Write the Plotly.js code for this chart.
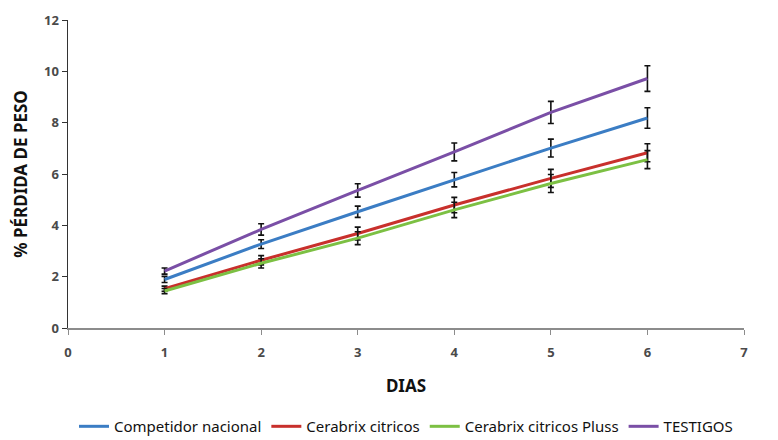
<!DOCTYPE html>
<html>
<head>
<meta charset="utf-8">
<script src="https://cdn.plot.ly/plotly-3.0.1.min.js"></script>
<style>html,body{margin:0;padding:0;background:#fff;}#chart{width:778px;height:440px;}</style>
</head>
<body>
<div id="chart"></div>
<script>
var dias = [1, 2, 3, 4, 5, 6];
var seriesNames = ["Competidor nacional", "Cerabrix citricos", "Cerabrix citricos Pluss", "TESTIGOS"];
var competidor = [1.89, 3.27, 4.53, 5.78, 7.01, 8.18];
var competidorErr = [0.12, 0.17, 0.22, 0.28, 0.35, 0.40];
var cerabrix = [1.53, 2.64, 3.68, 4.79, 5.83, 6.83];
var cerabrixErr = [0.1, 0.18, 0.25, 0.30, 0.35, 0.35];
var pluss = [1.44, 2.52, 3.50, 4.60, 5.63, 6.56];
var plussErr = [0.1, 0.18, 0.25, 0.30, 0.35, 0.35];
var testigos = [2.22, 3.84, 5.36, 6.86, 8.40, 9.72];
var testigosErr = [0.12, 0.22, 0.26, 0.35, 0.43, 0.50];
var colors = ["#3b7dc4", "#c8302c", "#7cc043", "#7a4fa6"];
var yTicks = [0, 2, 4, 6, 8, 10, 12];
var xTicks = [0, 1, 2, 3, 4, 5, 6, 7];

var ys = [competidor, cerabrix, pluss, testigos];
var errs = [competidorErr, cerabrixErr, plussErr, testigosErr];
var order = [0, 1, 2, 3];
var traces = order.map(function (i) {
  return {
    x: dias, y: ys[i], name: seriesNames[i], type: "scatter", mode: "lines",
    line: {color: colors[i], width: 3},
    error_y: {type: "data", array: errs[i], visible: true, color: "#111", thickness: 1.6, width: 3}
  };
});

var tickFont = {family: "Noto Sans, sans-serif", size: 13, color: "#4a4a4a", weight: "bold"};
var layout = {
  width: 778, height: 440,
  margin: {l: 68, r: 34, t: 20, b: 112, autoexpand: false},
  paper_bgcolor: "#fff", plot_bgcolor: "#fff",
  showlegend: true,
  xaxis: {
    range: [0, 7], tickvals: xTicks, ticktext: xTicks.map(String), automargin: false,
    showgrid: false, zeroline: false, showline: true, linecolor: "#8c8c8c", linewidth: 1.5,
    ticks: "outside", ticklen: 5, tickcolor: "#8c8c8c", ticklabelstandoff: 7,
    tickfont: tickFont,
    title: {text: "<b>DIAS</b>", font: {family: "Noto Sans, sans-serif", size: 17, color: "#111"}, standoff: 20}
  },
  yaxis: {
    range: [0, 12], tickvals: yTicks, ticktext: yTicks.map(String), automargin: false,
    showgrid: false, zeroline: false, showline: true, linecolor: "#333", linewidth: 1.5,
    ticks: "outside", ticklen: 5, tickcolor: "#333",
    tickfont: tickFont,
    title: {text: "<b>% PÉRDIDA DE PESO</b>", font: {family: "Noto Sans, sans-serif", size: 17, color: "#111"}, standoff: 12}
  },
  legend: {
    orientation: "h", x: 0.5, xanchor: "center", y: -0.32, yanchor: "middle",
    font: {family: "Noto Sans, sans-serif", size: 15, color: "#111"},
    itemwidth: 30, tracegroupgap: 0
  }
};
Plotly.newPlot("chart", traces, layout, {displayModeBar: false, staticPlot: true});
</script>
</body>
</html>
